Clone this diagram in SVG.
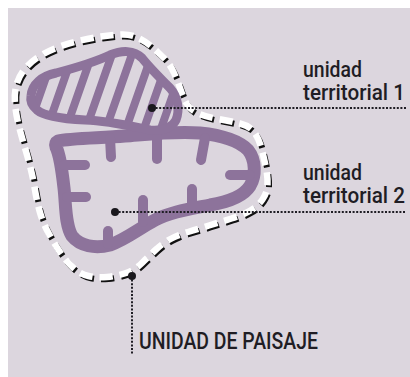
<svg xmlns="http://www.w3.org/2000/svg" width="410" height="377" viewBox="0 0 410 377">
<defs>
<style>
.purple{fill:none;stroke:#8d739b;stroke-linecap:round;stroke-linejoin:round}
.hatch{stroke:#8d739b;stroke-width:8;stroke-linecap:round}
.finger{stroke:#8d739b;stroke-width:10;stroke-linecap:round}
.lead{fill:none;stroke:#1f1d24;stroke-width:2;stroke-dasharray:2 1.6}
.dot{fill:#1a181d}
.lbl{font-family:Roboto,"DejaVu Sans","Liberation Sans",sans-serif;font-weight:500;fill:#1f1d24}
</style>
<path id="bound" d="M 17,83 Q 20,74 26.5,67 Q 33,60 41.5,55 Q 50,50 60,46.5 Q 70,43 80.5,40.5 Q 91,38 101,36.5 Q 111,35 120.5,34.5 Q 130,34 137.5,37.5 Q 145,41 151.5,46.5 Q 158,52 164,58 Q 170,64 174,73 Q 178,82 180.5,89.5 Q 183,97 186.5,103.5 Q 190,110 198.5,113.5 Q 207,117 218.5,119 Q 230,121 240,123.5 Q 250,126 254.5,132.5 Q 259,139 261.5,148.5 Q 264,158 266,168 Q 268,178 267.5,185.5 Q 267,193 262.5,199.5 Q 258,206 250.5,210.5 Q 243,215 231.5,218.5 Q 220,222 209,225.5 Q 198,229 188,232 Q 178,235 170.5,239 Q 163,243 156,249.5 Q 149,256 142,263 Q 135,270 126,273 Q 117,276 107,277 Q 97,278 88.5,276 Q 80,274 73,267.5 Q 66,261 60,252 Q 54,243 48.5,233 Q 43,223 40,212.5 Q 37,202 35,190 Q 33,178 30.5,168 Q 28,158 25,148 Q 22,138 19,126.5 Q 16,115 15,103.5 Q 14,92 17,83 Z"/>
<path id="u1" d="M 31,96 C 32,84 42,76 56,73 C 75,68 95,62 110,55 C 122,50 134,50 142,58 C 150,68 160,78 170,88 C 178,97 180,110 176,120 C 172,128 162,131 150,130 C 130,126 110,121 85,120 C 65,119 45,117 37,110 C 32,106 30,101 31,96 Z"/>
<clipPath id="u1clip"><use href="#u1"/></clipPath>
</defs>
<rect x="0" y="0" width="410" height="377" fill="#ffffff"/>
<rect x="8" y="8" width="402" height="369" fill="#dcd6de"/>

<g id="unidad-de-paisaje">
<use href="#bound" fill="none" stroke="#111" stroke-width="6" stroke-dasharray="13 7" transform="translate(1.5,2)"/>
<use href="#bound" fill="none" stroke="#ffffff" stroke-width="6.5" stroke-dasharray="13 7"/>
</g>

<g id="unidad-territorial-2">
<path class="purple" stroke-width="13" d="M 58,141 C 70,138 100,138 125,136 C 150,134 175,131 200,133 C 220,135 238,140 248,150 C 256,160 256,176 250,186 C 243,197 228,202 210,205 C 190,209 170,212 155,220 C 140,228 125,240 110,245 C 95,249 80,246 72,236 C 65,225 66,205 64,188 C 62,170 60,155 56,147 C 55,144 56,142 58,141 Z"/>
<line class="finger" x1="110" y1="138" x2="111" y2="157"/>
<line class="finger" x1="157" y1="136" x2="157" y2="159"/>
<line class="finger" x1="205" y1="138" x2="201" y2="160"/>
<line class="finger" x1="250" y1="175" x2="230" y2="175"/>
<line class="finger" x1="192" y1="208" x2="192" y2="189"/>
<line class="finger" x1="143" y1="222" x2="143" y2="200"/>
<line class="finger" x1="108" y1="244" x2="108" y2="231"/>
<line class="finger" x1="64" y1="165" x2="85" y2="165"/>
<line class="finger" x1="67" y1="197" x2="86" y2="197"/>
</g>

<g id="unidad-territorial-1">
<g clip-path="url(#u1clip)">
<line class="hatch" x1="24" y1="140" x2="59" y2="40"/>
<line class="hatch" x1="43" y1="140" x2="78" y2="40"/>
<line class="hatch" x1="62" y1="140" x2="97" y2="40"/>
<line class="hatch" x1="82" y1="140" x2="117" y2="40"/>
<line class="hatch" x1="102" y1="140" x2="137" y2="40"/>
<line class="hatch" x1="122" y1="140" x2="157" y2="40"/>
<line class="hatch" x1="140" y1="140" x2="175" y2="40"/>
<line class="hatch" x1="157" y1="140" x2="192" y2="40"/>
</g>
<use href="#u1" class="purple" stroke-width="9"/>
</g>

<g id="connectors">
<line class="lead" x1="152" y1="108" x2="406" y2="108"/>
<line class="lead" x1="115" y1="212" x2="406" y2="212"/>
<line class="lead" x1="132" y1="276" x2="132" y2="354"/>
<circle class="dot" cx="152" cy="108" r="4"/>
<circle class="dot" cx="115" cy="212" r="4"/>
<circle class="dot" cx="132" cy="276" r="4"/>
</g>

<g id="label-ut1">
<text class="lbl" x="303" y="77" font-size="21.5" textLength="59" lengthAdjust="spacingAndGlyphs">unidad</text>
<text class="lbl" x="303" y="100" font-size="21.5" textLength="102" lengthAdjust="spacingAndGlyphs">territorial 1</text>
</g>
<g id="label-ut2">
<text class="lbl" x="303" y="180" font-size="21.5" textLength="59" lengthAdjust="spacingAndGlyphs">unidad</text>
<text class="lbl" x="303" y="203" font-size="21.5" textLength="102" lengthAdjust="spacingAndGlyphs">territorial 2</text>
</g>
<g id="label-up">
<text class="lbl" x="139" y="349" font-size="23.5" textLength="179" lengthAdjust="spacingAndGlyphs">UNIDAD DE PAISAJE</text>
</g>
</svg>
